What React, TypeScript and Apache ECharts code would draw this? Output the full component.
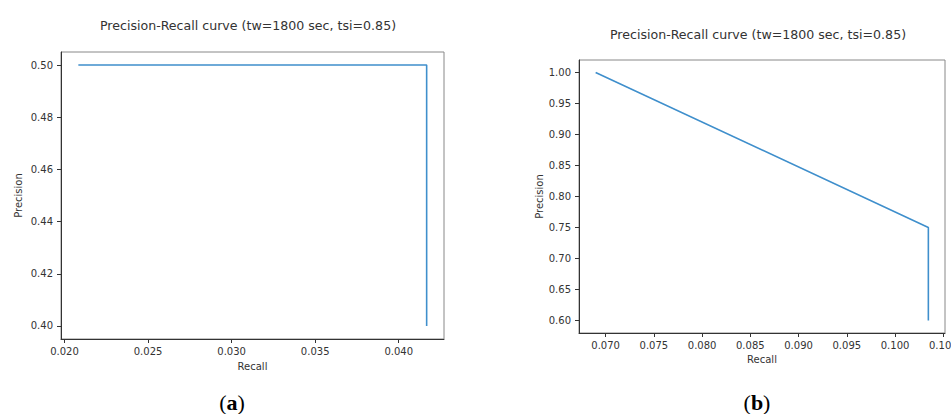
import React, { useEffect, useRef } from "react";
import * as echarts from "echarts";

const titleText = "Precision-Recall curve (tw=1800 sec, tsi=0.85)";

const recallA = [0.02083, 0.04167, 0.04167];
const precisionA = [0.5, 0.5, 0.4];
const recallB = [0.06897, 0.10345, 0.10345];
const precisionB = [1.0, 0.75, 0.6];

const xTicksA = [0.02, 0.025, 0.03, 0.035, 0.04];
const yTicksA = [0.4, 0.42, 0.44, 0.46, 0.48, 0.5];
const xTicksB = [0.07, 0.075, 0.08, 0.085, 0.09, 0.095, 0.1, 0.105];
const yTicksB = [0.6, 0.65, 0.7, 0.75, 0.8, 0.85, 0.9, 0.95, 1.0];

const FONT = "DejaVu Sans";
const TXT = "#333";
const LINE = "#3f8fcc";

function axisBase(ticks: number[], digits: number, margin: number) {
  return {
    type: "value" as const,
    splitLine: { show: false },
    axisLine: { show: true, lineStyle: { color: "#333", width: 1 } },
    axisTick: { show: true, inside: false, length: 4, customValues: ticks, lineStyle: { color: "#333" } },
    axisLabel: {
      customValues: ticks,
      formatter: (v: number) => v.toFixed(digits),
      color: TXT,
      fontSize: 10,
      fontFamily: FONT,
      margin,
    },
    nameTextStyle: { color: TXT, fontSize: 10, fontFamily: FONT },
    nameLocation: "middle" as const,
  };
}

export default function App() {
  const ref = useRef<HTMLDivElement>(null);
  useEffect(() => {
    if (!ref.current) return;
    const chart = echarts.init(ref.current, undefined, { renderer: "svg" });
    const toPairs = (xs: number[], ys: number[]) => xs.map((x, i) => [x, ys[i]]);
    const captionRich = {
      p: { fontSize: 22, fontFamily: "Liberation Serif", fill: "#000" },
      b: { fontSize: 22, fontFamily: "Liberation Serif", fontWeight: "bold", fill: "#000" },
    };
    chart.setOption({
      animation: false,
      backgroundColor: "#fff",
      title: [
        {
          text: titleText,
          left: 243,
          top: 14,
          textAlign: "center",
          textStyle: { fontSize: 12.6, fontWeight: "normal", color: TXT, fontFamily: FONT },
        },
        {
          text: titleText,
          left: 753,
          top: 23,
          textAlign: "center",
          textStyle: { fontSize: 12.6, fontWeight: "normal", color: TXT, fontFamily: FONT },
        },
      ],
      grid: [
        { left: 61, top: 52, width: 383, height: 287, show: true, borderColor: "#888", borderWidth: 1, backgroundColor: "transparent", containLabel: false, outerBoundsMode: "none" },
        { left: 579, top: 60, width: 366, height: 273, show: true, borderColor: "#888", borderWidth: 1, backgroundColor: "transparent", containLabel: false, outerBoundsMode: "none" },
      ],
      xAxis: [
        { ...axisBase(xTicksA, 3, 7), gridIndex: 0, min: 0.019792, max: 0.042708, name: "Recall", nameGap: 22 },
        { ...axisBase(xTicksB, 3, 7), gridIndex: 1, min: 0.067245, max: 0.105175, name: "Recall", nameGap: 21 },
      ],
      yAxis: [
        { ...axisBase(yTicksA, 2, 8), gridIndex: 0, min: 0.395, max: 0.505, name: "Precision", nameGap: 38 },
        { ...axisBase(yTicksB, 2, 8), gridIndex: 1, min: 0.58, max: 1.02, name: "Precision", nameGap: 34 },
      ],
      series: [
        {
          type: "line",
          xAxisIndex: 0,
          yAxisIndex: 0,
          data: toPairs(recallA, precisionA),
          showSymbol: false,
          lineStyle: { color: LINE, width: 1.6 },
        },
        {
          type: "line",
          xAxisIndex: 1,
          yAxisIndex: 1,
          data: toPairs(recallB, precisionB),
          showSymbol: false,
          lineStyle: { color: LINE, width: 1.6 },
        },
      ],
      graphic: [
        {
          type: "text",
          x: 232,
          y: 402,
          style: { text: "{p|(}{b|a}{p|)}", align: "center", verticalAlign: "middle", rich: captionRich },
        },
        {
          type: "text",
          x: 757,
          y: 402,
          style: { text: "{p|(}{b|b}{p|)}", align: "center", verticalAlign: "middle", rich: captionRich },
        },
      ],
    });
    return () => chart.dispose();
  }, []);
  return (
    <div
      ref={ref}
      style={{ position: "fixed", left: 0, top: 0, width: 951, height: 414, overflow: "hidden" }}
    />
  );
}
